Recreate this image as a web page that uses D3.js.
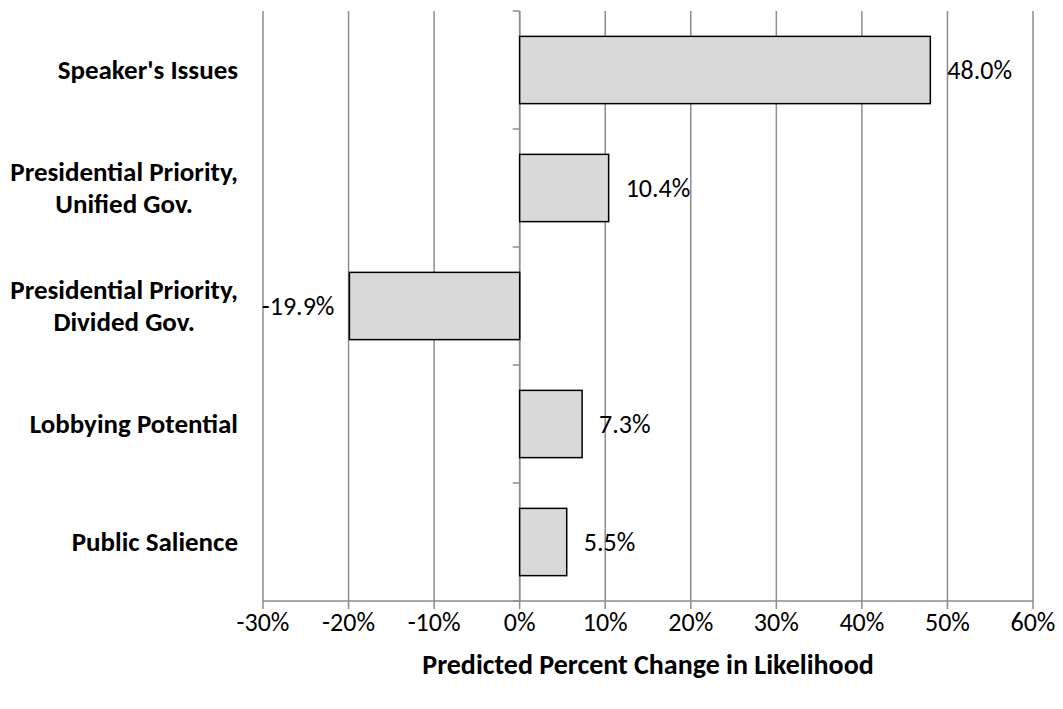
<!DOCTYPE html>
<html>
<head>
<meta charset="utf-8">
<script src="https://cdn.jsdelivr.net/npm/d3@7"></script>
<style>
  html, body { margin: 0; padding: 0; background: #fff; }
  svg { display: block; font-family: Carlito, Lato, "Open Sans", sans-serif; }
</style>
</head>
<body>
<svg id="chart" width="1063" height="709"></svg>
<script>
// Predicted percent change in likelihood, by factor
const categories = [
  ["Speaker's Issues"],
  ["Presidential Priority,", "Unified Gov."],
  ["Presidential Priority,", "Divided Gov."],
  ["Lobbying Potential"],
  ["Public Salience"]
];
const values = [48.0, 10.4, -19.9, 7.3, 5.5];
const tickValues = [-30, -20, -10, 0, 10, 20, 30, 40, 50, 60];
const axisTitle = "Predicted Percent Change in Likelihood";

const svg = d3.select("#chart");
const plotLeft = 263, plotRight = 1033, plotTop = 11, plotBottom = 601;
const fs = 26;

const x = d3.scaleLinear().domain([-30, 60]).range([plotLeft, plotRight]);
const y = d3.scaleBand().domain(d3.range(categories.length)).range([plotTop, plotBottom]).paddingInner(0.43).paddingOuter(0.215);

// vertical gridlines
svg.append("g").selectAll("line").data(tickValues).join("line")
  .attr("x1", d => x(d)).attr("x2", d => x(d))
  .attr("y1", plotTop).attr("y2", plotBottom)
  .attr("stroke", "#8c8c8c").attr("stroke-width", 1.5);

// bottom axis line and ticks
const xAxis = svg.append("g");
xAxis.append("line").attr("x1", plotLeft).attr("x2", plotRight).attr("y1", plotBottom).attr("y2", plotBottom)
  .attr("stroke", "#8c8c8c").attr("stroke-width", 1.5);
xAxis.selectAll("line.tick").data(tickValues).join("line").attr("class", "tick")
  .attr("x1", d => x(d)).attr("x2", d => x(d)).attr("y1", plotBottom).attr("y2", plotBottom + 8)
  .attr("stroke", "#8c8c8c").attr("stroke-width", 1.5);
xAxis.selectAll("text").data(tickValues).join("text")
  .attr("x", d => x(d)).attr("y", 631)
  .attr("text-anchor", "middle")
  .attr("font-size", fs).attr("fill", "#000")
  .text(d => d + "%");

// category axis at zero with boundary ticks
const bandStep = (plotBottom - plotTop) / categories.length;
const yAxis = svg.append("g");
yAxis.append("line").attr("x1", x(0)).attr("x2", x(0)).attr("y1", plotTop).attr("y2", plotBottom)
  .attr("stroke", "#8c8c8c").attr("stroke-width", 1.5);
yAxis.selectAll("line.tick").data(d3.range(categories.length + 1)).join("line").attr("class", "tick")
  .attr("x1", x(0) - 7).attr("x2", x(0))
  .attr("y1", i => plotTop + i * bandStep).attr("y2", i => plotTop + i * bandStep)
  .attr("stroke", "#8c8c8c").attr("stroke-width", 1.5);

// bars
svg.append("g").selectAll("rect").data(values).join("rect")
  .attr("x", d => x(Math.min(0, d)))
  .attr("width", d => Math.abs(x(d) - x(0)))
  .attr("y", (d, i) => y(i))
  .attr("height", y.bandwidth())
  .attr("fill", "#d9d9d9").attr("stroke", "#000").attr("stroke-width", 1.5);

// value labels
svg.append("g").selectAll("text").data(values).join("text")
  .attr("x", d => d >= 0 ? x(d) + 17 : x(d) - 15)
  .attr("y", (d, i) => y(i) + y.bandwidth() / 2)
  .attr("dy", "0.35em")
  .attr("text-anchor", d => d >= 0 ? "start" : "end")
  .attr("font-size", fs).attr("fill", "#000")
  .text(d => d.toFixed(1) + "%");

// category labels: block right-aligned, lines centred within block
const labelRight = 238, lineH = 32;
const catG = svg.append("g");
categories.forEach((lines, i) => {
  const cy = y(i) + y.bandwidth() / 2;
  const t = catG.append("text")
    .attr("font-size", 27).attr("font-weight", "bold").attr("fill", "#000")
    .attr("text-anchor", "middle");
  const spans = lines.map(ln => t.append("tspan").text(ln));
  const widths = spans.map(s => s.node().getComputedTextLength());
  const w = Math.max(...widths);
  const cx = labelRight - w / 2;
  spans.forEach((s, j) => s.attr("x", cx)
    .attr("y", cy + (j - (lines.length - 1) / 2) * lineH).attr("dy", "0.35em"));
});

// axis title
svg.append("text")
  .attr("x", (plotLeft + plotRight) / 2).attr("y", 674)
  .attr("text-anchor", "middle")
  .attr("font-size", 28).attr("font-weight", "bold").attr("fill", "#000")
  .text(axisTitle);
</script>
</body>
</html>
